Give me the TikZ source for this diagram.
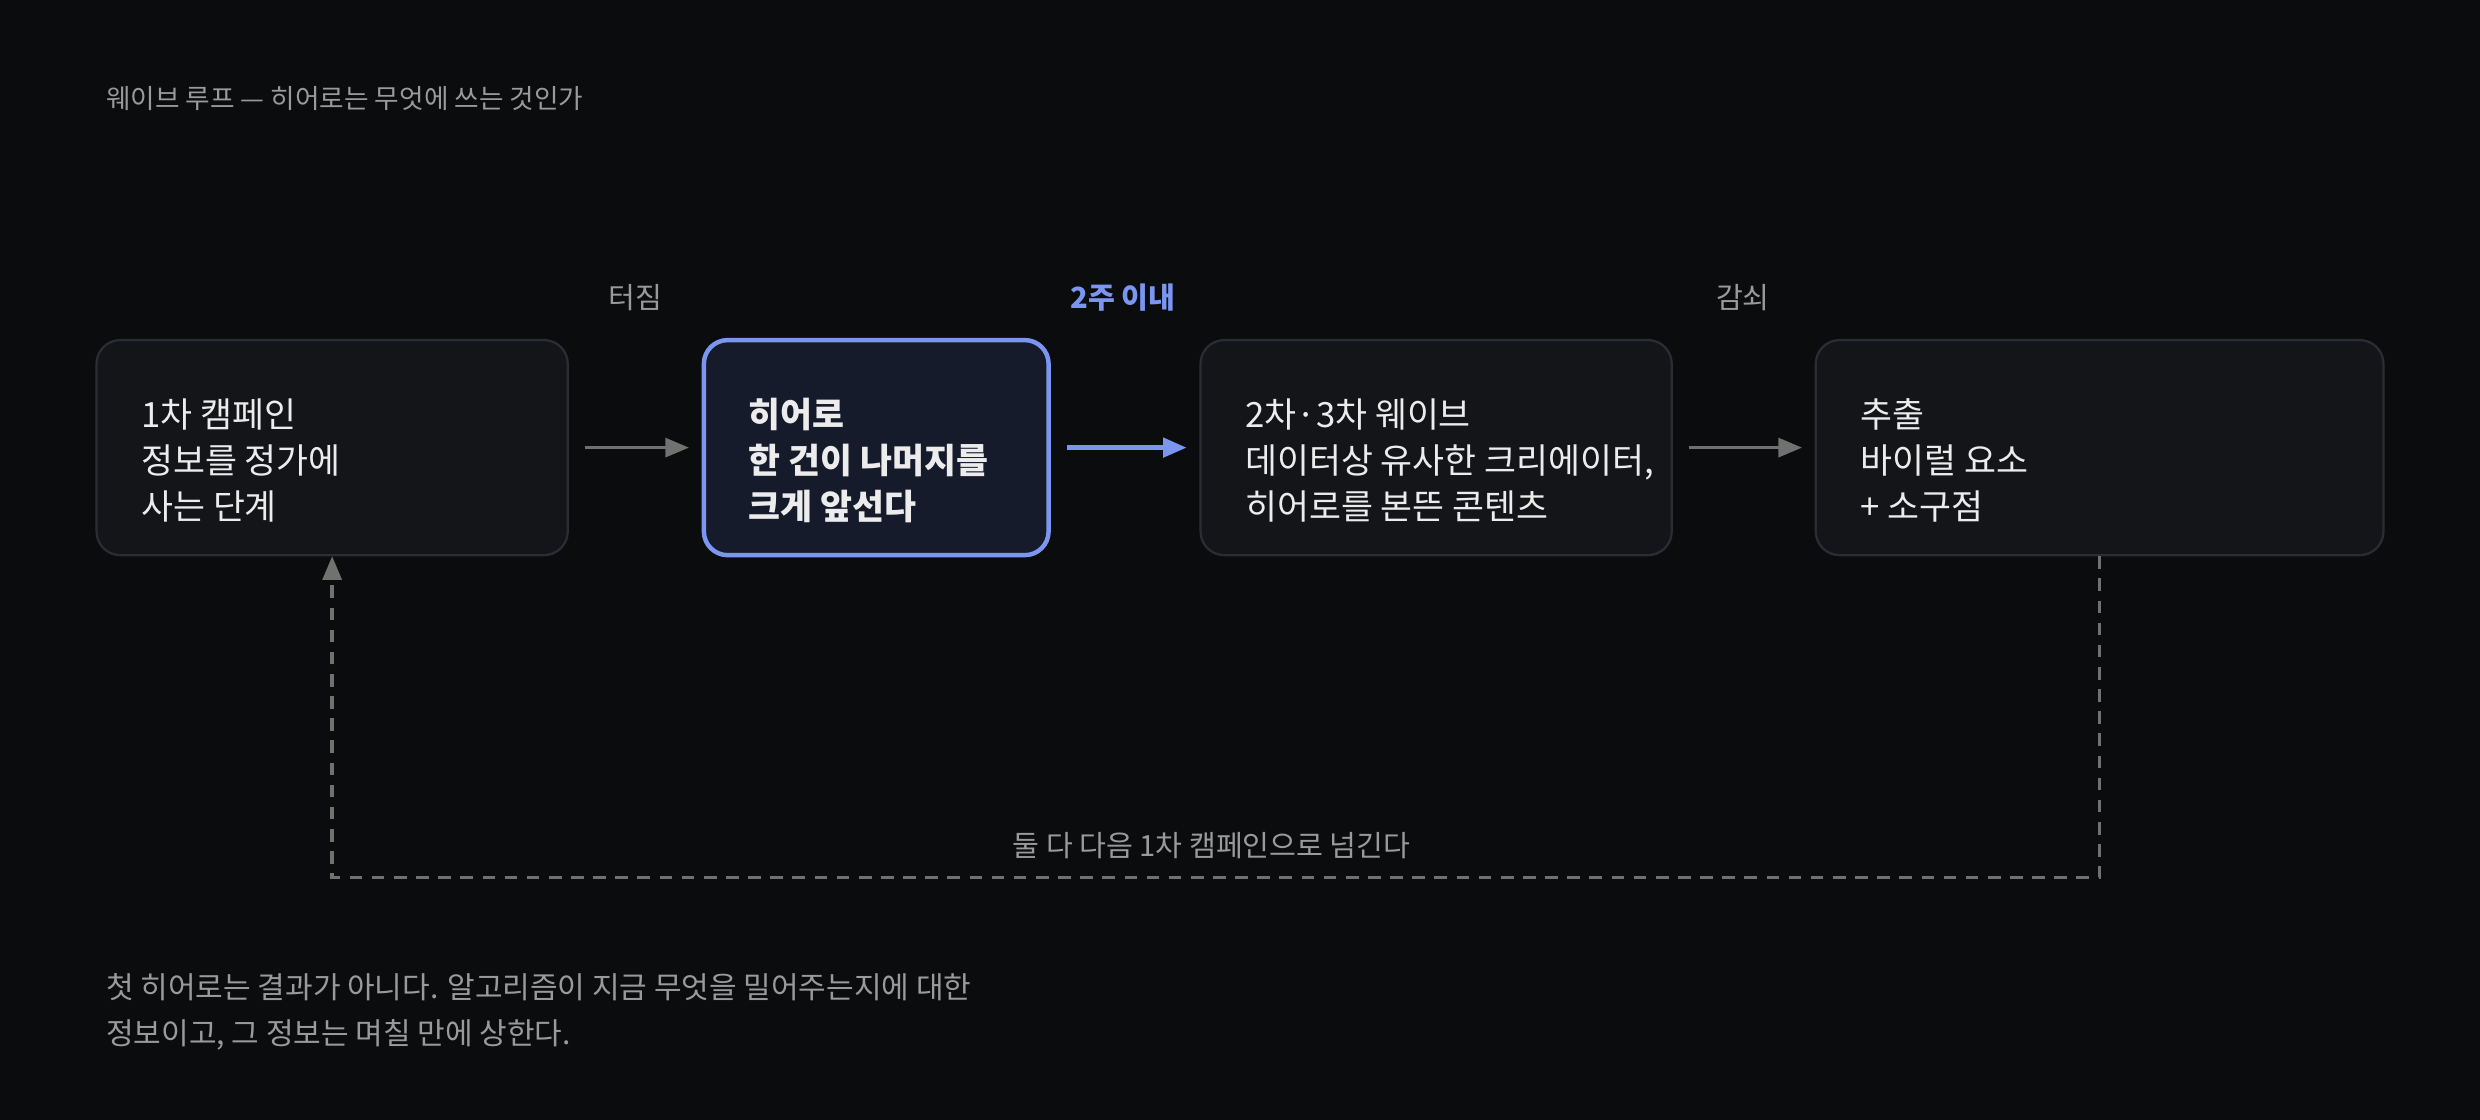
\documentclass[tikz,border=0pt]{standalone}
\usepackage{fontspec}
\setmainfont{Noto Sans CJK KR}
\usetikzlibrary{arrows.meta,positioning}
\definecolor{bgc}{HTML}{0B0C0E}
\definecolor{boxfill}{HTML}{131519}
\definecolor{boxline}{HTML}{2A2D33}
\definecolor{herofill}{HTML}{161B2C}
\definecolor{heroline}{HTML}{7B96F0}
\definecolor{txt}{HTML}{ECECEC}
\definecolor{muted}{HTML}{9A9A9A}
\definecolor{arr}{HTML}{6F726F}
\tikzset{
  stage/.style={draw=boxline,fill=boxfill,rounded corners=0.3cm,line width=0.8pt,minimum height=2.72cm,inner sep=0pt},
  hero/.style={stage,draw=heroline,fill=herofill,line width=1.6pt},
  body/.style={text=txt,font=\fontsize{12.5}{16.5}\selectfont,align=left,anchor=west,inner sep=0pt},
  tag/.style={text=muted,font=\fontsize{10.5}{13}\selectfont},
  flow/.style={-{Triangle[length=0.3cm,width=0.24cm]},arr,line width=1.2pt,shorten <=0.2cm,shorten >=0.16cm}
}
\begin{document}
\begin{tikzpicture}[x=0.02cm,y=-0.02cm]
  \fill[bgc] (0,0) rectangle (1568,708);
  \useasboundingbox (0,0) rectangle (1568,708);

  \node[tag,anchor=west,font=\fontsize{9.6}{12}\selectfont] (title) at (61,62) {웨이브 루프 — 히어로는 무엇에 쓰는 것인가};

  \node[stage,minimum width=5.96cm] (first) at (210,283) {};
  \node[hero,minimum width=4.36cm]  (hero)  at (554,283) {};
  \node[stage,minimum width=5.96cm] (wave)  at (908,283) {};
  \node[stage,minimum width=7.18cm] (take)  at (1327.5,283) {};

  \node[body] (firsttxt) at (89,291)   {1차 캠페인\\정보를 정가에\\사는 단계};
  \node[body,font=\bfseries\fontsize{12.5}{16.5}\selectfont] (herotxt) at (473,291) {히어로\\한 건이 나머지를\\크게 앞선다};
  \node[body] (wavetxt) at (787,291)   {2차·3차 웨이브\\데이터상 유사한 크리에이터,\\히어로를 본뜬 콘텐츠};
  \node[body] (taketxt) at (1176,291)  {추출\\바이럴 요소\\+ 소구점};

  \node[tag] (burst) at (402,188) {터짐};
  \node[tag,text=heroline,font=\bfseries\fontsize{10.5}{13}\selectfont] (soon) at (710,188) {2주 이내};
  \node[tag] (decay) at (1102,188) {감쇠};

  \draw[flow] (first) -- (hero);
  \draw[flow,heroline,line width=1.8pt] (hero) -- (wave);
  \draw[flow] (wave) -- (take);

  \coordinate (loop) at (766,555);
  \draw[arr,line width=1.2pt,dash pattern=on 0.16cm off 0.12cm,-{Triangle[length=0.3cm,width=0.24cm]}]
    (take.south) |- (loop) -| (first.south);
  \node[tag,above=0.12cm of loop] (back) {둘 다 다음 1차 캠페인으로 넘긴다};

  \node[tag,anchor=west,align=left,font=\fontsize{10.8}{16.5}\selectfont] (note) at (61,640)
    {첫 히어로는 결과가 아니다. 알고리즘이 지금 무엇을 밀어주는지에 대한\\정보이고, 그 정보는 며칠 만에 상한다.};
\end{tikzpicture}
\end{document}
